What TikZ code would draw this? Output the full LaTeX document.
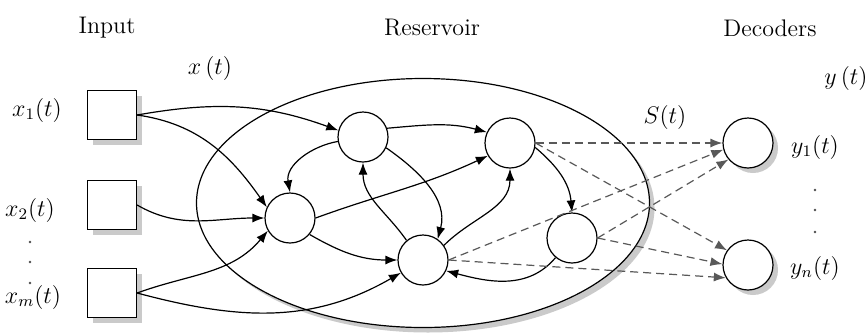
\documentclass[tikz,border=0pt]{standalone}
\usepackage{amsmath}
\usetikzlibrary{positioning,arrows.meta,shapes.geometric,shadows}

\tikzset{
    softshadow/.style={drop shadow={shadow xshift=2.5pt, shadow yshift=-2.5pt, opacity=0.35, fill=black!60}},
    unit/.style={circle, draw, fill=white, line width=0.6pt, minimum size=25pt, inner sep=0pt},
    inbox/.style={rectangle, draw, fill=white, line width=0.6pt, minimum size=24.5pt, inner sep=0pt, softshadow},
    link/.style={-{Latex[length=6pt,width=4.5pt]}, line width=0.6pt},
    readout/.style={link, dash pattern=on 4pt off 2.5pt, black!65},
    lbl/.style={font=\large},
    dot/.style={circle, fill=black!70, inner sep=0pt, minimum size=1.4pt},
}

\begin{document}
\begin{tikzpicture}[x=0.5pt,y=-0.5pt]
    \useasboundingbox (0,0) rectangle (866,333);
    % headings
    \node[lbl] (hin) at (107,28) {Input};
    \node[lbl] (hres) at (432,28) {Reservoir};
    \node[lbl] (hdec) at (770,28) {Decoders};
    \node[lbl] (xt) at (210,68) {$x\,(t)$};
    \node[lbl] (yt) at (846,78) {$y\,(t)$};
    \node[lbl] (st) at (665,117) {$S(t)$};
    % reservoir
    \node[ellipse, draw, fill=white, line width=0.6pt, minimum width=226.5pt, minimum height=124.5pt, softshadow] (res) at (423,203) {};
    % inputs
    \node[inbox] (in1) at (112,115) {};
    \node[inbox] (in2) at (112,205) {};
    \node[inbox] (in3) at (112,293) {};
    \node[lbl] (lx1) at (37,110) {$x_1(t)$};
    \node[lbl] (lx2) at (30,210) {$x_2(t)$};
    \node[lbl] (lxm) at (33,297) {$x_m(t)$};
    \foreach \y in {242,262,283} \node[dot] at (30,\y) {};
    % reservoir units
    \node[unit] (A) at (290,218) {};
    \node[unit] (B) at (363,137) {};
    \node[unit] (C) at (510,143) {};
    \node[unit] (D) at (423,260) {};
    \node[unit] (E) at (572,238) {};
    % decoders
    \node[unit, softshadow] (Y1) at (748,143) {};
    \node[unit, softshadow] (Yn) at (748,265) {};
    \node[lbl] (ly1) at (815,147) {$y_1(t)$};
    \node[lbl] (lyn) at (815,268) {$y_n(t)$};
    \foreach \y in {190,210,232} \node[dot] at (815,\y) {};
    % input weights
    \path[every edge/.append style={link}]
        (in1.east) edge[out=10,in=160] (B.165)
        (in1.east) edge[out=-8,in=125] (A.155)
        (in2.east) edge[out=-30,in=180] (A.west)
        (in3.east) edge[out=20,in=-130] (A.-150)
        (in3.east) edge[out=-15,in=-150] (D.-150);
    % recurrent weights
    \path[every edge/.append style={link}]
        (B.20) edge[out=5,in=165] (C.155)
        (B.190) edge[out=190,in=100] (A.north)
        (B.-25) edge[out=-35,in=75] (D.55)
        (D.130) edge[out=125,in=-90] (B.south)
        (A.east) edge[out=20,in=-155] (C.-150)
        (A.-40) edge[out=-30,in=180] (D.west)
        (D.35) edge[out=45,in=-90] (C.south)
        (C.-10) edge[out=-40,in=95] (E.north)
        (E.-130) edge[out=-130,in=-15] (D.-25);
    % readout
    \path[every edge/.append style={readout}]
        (C.east) edge (Y1.west)
        (C.east) edge (Yn.145)
        (D.east) edge (Y1.195)
        (D.east) edge (Yn.210)
        (E.east) edge (Y1.220)
        (E.east) edge (Yn.178);
\end{tikzpicture}
\end{document}
